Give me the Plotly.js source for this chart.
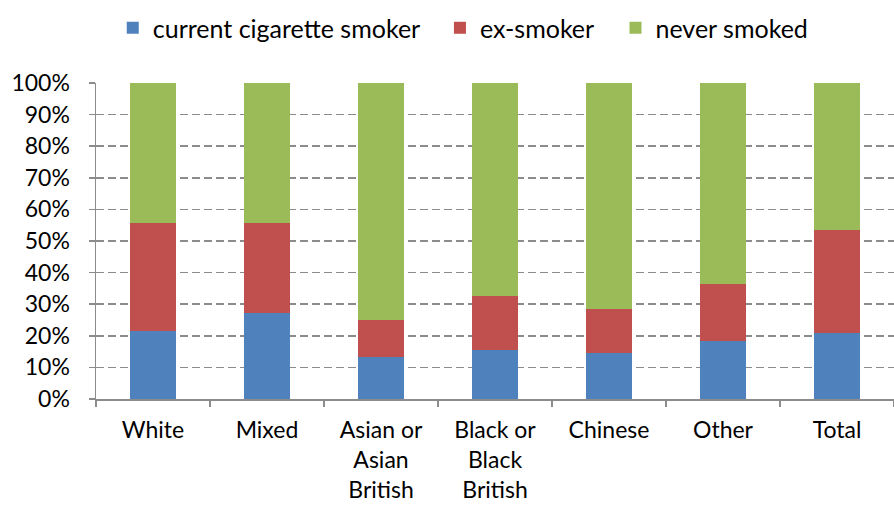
<!DOCTYPE html>
<html>
<head>
<meta charset="utf-8">
<script src="https://cdn.plot.ly/plotly-3.0.1.min.js"></script>
<style>
  html, body { margin: 0; padding: 0; background: #fff; }
  #chart { width: 894px; height: 507px; }
</style>
</head>
<body>
<div id="chart"></div>
<script>
// Smoking status by ethnic group (percent of each group)
const groups = ["White", "Mixed", "Asian or<br>Asian<br>British", "Black or<br>Black<br>British", "Chinese", "Other", "Total"];
const currentSmoker = [21.5, 27.1, 13.2, 15.4, 14.7, 18.4, 21.0];
const exSmoker      = [34.2, 28.5, 11.9, 17.2, 13.7, 18.0, 32.5];
const neverSmoked   = [44.3, 44.4, 74.9, 67.4, 71.6, 63.6, 46.5];
const yTicks = [0, 10, 20, 30, 40, 50, 60, 70, 80, 90, 100];

const seriesNames = ["current cigarette smoker", "ex-smoker", "never smoked"];
const seriesColors = ["#4F81BD", "#C0504D", "#9BBB59"];
const seriesValues = [currentSmoker, exSmoker, neverSmoked];
// one legend per series so each key can sit at its own spot in the header row
const legendIds = ["legend", "legend2", "legend3"];
const legendX = [0.021, 0.431, 0.651];

const traces = seriesValues.map((vals, i) => ({
  type: "bar",
  name: seriesNames[i],
  x: groups,
  y: vals,
  legend: legendIds[i],
  marker: { color: seriesColors[i], line: { width: 0 } },
  hoverinfo: "x+y+name"
}));

const font = { family: "Lato, 'Open Sans', sans-serif", size: 24, color: "#000" };

function legendAt(x) {
  return {
    orientation: "h",
    x: x, xanchor: "left",
    y: 1.174, yanchor: "middle",
    font: Object.assign({}, font, { size: 25 }),
    itemwidth: 30,
    bgcolor: "rgba(0,0,0,0)"
  };
}

const layout = {
  width: 894,
  height: 507,
  barmode: "stack",
  bargap: 0.6,
  margin: { l: 96, r: 0, t: 83, b: 108, pad: 0, autoexpand: false },
  paper_bgcolor: "#fff",
  plot_bgcolor: "#fff",
  font: font,
  showlegend: true,
  legend: legendAt(legendX[0]),
  legend2: legendAt(legendX[1]),
  legend3: legendAt(legendX[2]),
  xaxis: {
    type: "category",
    showline: true,
    linecolor: "#8c8c8c",
    linewidth: 1.5,
    ticks: "outside",
    tickson: "boundaries",
    ticklen: 6,
    tickcolor: "#8c8c8c",
    tickwidth: 1.5,
    ticklabelstandoff: 10,
    tickangle: 0,
    automargin: false,
    showgrid: false,
    tickfont: Object.assign({}, font, { size: 23 }),
    fixedrange: true
  },
  yaxis: {
    range: [0, 100],
    tickvals: yTicks,
    ticktext: yTicks.map(v => v + "%"),
    showline: true,
    linecolor: "#8c8c8c",
    linewidth: 1.5,
    ticks: "outside",
    ticklen: 6,
    tickcolor: "#8c8c8c",
    tickwidth: 1.5,
    ticklabelstandoff: 14,
    automargin: false,
    showgrid: true,
    gridcolor: "#8c8c8c",
    gridwidth: 1.5,
    griddash: "8px,4px",
    zeroline: false,
    tickfont: Object.assign({}, font, { size: 23 }),
    fixedrange: true
  }
};

Plotly.newPlot("chart", traces, layout, { displayModeBar: false, staticPlot: true });
</script>
</body>
</html>
